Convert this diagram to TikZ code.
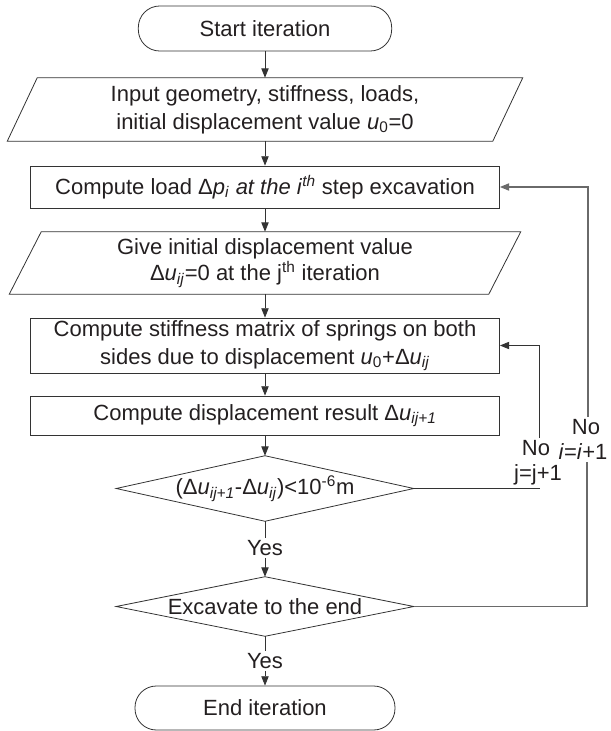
\documentclass[tikz,border=0pt]{standalone}
\usepackage{fontspec}
\setmainfont{Liberation Sans}
\usetikzlibrary{arrows.meta}
\definecolor{txt}{HTML}{231F20}
\definecolor{ln}{HTML}{333333}
\definecolor{lng}{HTML}{6A6A6A}
\begin{document}
\begin{tikzpicture}[x=0.75pt,y=-0.75pt,
  every node/.style={font=\fontsize{16.5}{20}\selectfont, text=txt},
  shapeline/.style={draw=ln, line width=0.6pt},
  box/.style={shapeline, minimum width=351.75pt, inner sep=0pt, align=center},
  term/.style={shapeline, rounded corners=16pt, minimum width=190pt, minimum height=33.75pt, inner sep=0pt},
  plain/.style={inner sep=0pt, align=center},
  lab/.style={inner sep=1.5pt},
  conn/.style={draw=ln, line width=0.6pt},
  arr/.style={conn, -{Triangle[length=7pt,width=5.5pt]}},
  gconn/.style={draw=lng, line width=0.9pt},
  garr/.style={gconn, -{Triangle[length=7pt,width=5.5pt]}}]
\useasboundingbox (0,0) rectangle (610,731);

% nodes
\node[term] (start) at (265,28.5) {Start iteration};

\node[plain, minimum width=386.25pt, minimum height=47.25pt] (p1) at (265,109.5)
  {Input geometry, stiffness, loads,\\[1pt] initial displacement value \textit{u}\textsubscript{0}=0};
\draw[shapeline] (p1.south west) -- ([xshift=22.5pt]p1.north west) -- (p1.north east)
  -- ([xshift=-22.5pt]p1.south east) -- cycle;

\node[box, minimum height=31.5pt] (r1) at (265,187)
  {Compute load Δ\textit{p}\textsubscript{\textit{i}} \textit{at the i}\textsuperscript{\textit{th}} step excavation};

\node[plain, minimum width=383.25pt, minimum height=46.5pt] (p2) at (265,263)
  {Give initial displacement value\\ Δ\textit{u}\textsubscript{\textit{ij}}=0 at the j\textsuperscript{th} iteration};
\draw[shapeline] (p2.south west) -- ([xshift=24pt]p2.north west) -- (p2.north east)
  -- ([xshift=-24pt]p2.south east) -- cycle;

\node[box, minimum height=41.25pt] (r2) at (265,345.5)
  {Compute stiffness matrix of springs on both\\[1pt] sides due to displacement \textit{u}\textsubscript{0}+Δ\textit{u}\textsubscript{\textit{ij}}};

\node[box, minimum height=29.25pt] (r3) at (265,415.5)
  {Compute displacement result Δ\textit{u}\textsubscript{\textit{ij+1}}};

\node[plain, minimum width=222.75pt, minimum height=48.75pt] (d1) at (265,488.5)
  {(Δ\textit{u}\textsubscript{\textit{ij+1}}-Δ\textit{u}\textsubscript{\textit{ij}})<10\textsuperscript{-6}m};
\draw[shapeline] (d1.west) -- (d1.north) -- (d1.east) -- (d1.south) -- cycle;

\node[lab] (y1) at (265,548) {Yes};

\node[plain, minimum width=222.75pt, minimum height=44.25pt] (d2) at (265,606.5)
  {Excavate to the end};
\draw[shapeline] (d2.west) -- (d2.north) -- (d2.east) -- (d2.south) -- cycle;

\node[lab] (y2) at (265,661) {Yes};

\node[term, minimum width=195pt, minimum height=33pt] (end) at (265,708) {End iteration};

% loop labels
\node[lab] (jno) at (536,448) {No};
\node[lab] (jl) at (538,475) {j=j+1};
\node[lab] (ino) at (586,427) {No};
\node[lab] (il) at (583,452) {\textit{i}=\textit{i}+1};

% main connectors
\draw[arr] (start) -- (p1);
\draw[arr] (p1) -- (r1);
\draw[arr] (r1) -- (p2);
\draw[arr] (p2) -- (r2);
\draw[arr] (r2) -- (r3);
\draw[arr] (r3) -- (d1);
\draw[conn] (d1.south) -- (y1.north);
\draw[arr] (y1.south) -- (d2.north);
\draw[conn] (d2.south) -- (y2.north);
\draw[arr] (y2.south) -- (end.north);

% j loop
\draw[conn] (d1.east) -| ([xshift=0.75pt]jl.south);
\draw[arr] ([xshift=0.75pt]jl.south |- jno.north) |- (r2.east);

% i loop
\draw[gconn] (d2.east) -| ([xshift=3pt]il.south);
\draw[garr] ([xshift=1.5pt]ino.north) |- (r1.east);
\end{tikzpicture}
\end{document}
